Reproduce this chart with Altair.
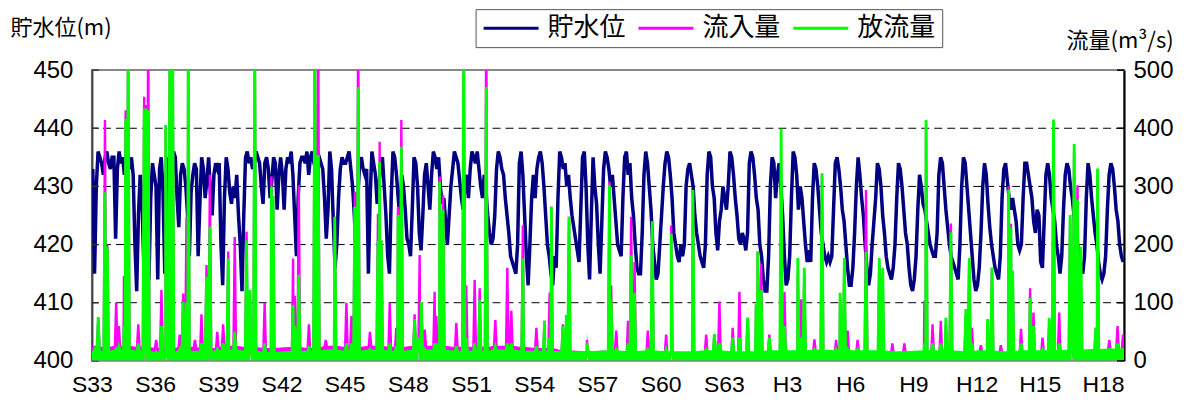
import json
import altair as alt
import pandas as pd

FONT_CJK = "Noto Sans CJK JP"
FONT_NUM = "Liberation Sans"

# ---- axis / category data -------------------------------------------------
x_tick_pos = [0, 3, 6, 9, 12, 15, 18, 21, 24, 27, 30, 33, 36, 39, 42, 45, 48]
x_tick_labels = ["S33", "S36", "S39", "S42", "S45", "S48", "S51", "S54", "S57",
                 "S60", "S63", "H3", "H6", "H9", "H12", "H15", "H18"]
level_ticks = [400, 410, 420, 430, 440, 450]
level_grid = [410, 420, 430, 440]
flow_ticks = [0, 100, 200, 300, 400, 500]
series_names = ["貯水位", "流入量", "放流量"]
series_colors = ["#000080", "#FF00FF", "#00FF00"]

# ---- reservoir level (m), monthly readings, one row per year from S33 ----
level = [
    [433, 415, 430, 436, 435, 434, 432, 435, 436, 434, 433, 435],
    [435, 421, 433, 436, 434, 435, 432, 436, 434, 433, 435, 432],
    [420, 412, 425, 432, 428, 417, 430, 434, 414, 428, 434, 432],
    [430, 414, 433, 435, 429, 415, 432, 435, 434, 433, 436, 435],
    [428, 423, 432, 434, 433, 430, 425, 418, 429, 432, 434, 433],
    [418, 427, 435, 433, 428, 431, 435, 429, 425, 432, 434, 433],
    [434, 420, 413, 428, 435, 433, 429, 427, 430, 428, 432, 425],
    [420, 412, 425, 435, 436, 434, 435, 433, 434, 436, 435, 434],
    [430, 427, 434, 435, 433, 428, 431, 435, 434, 426, 432, 435],
    [432, 426, 433, 435, 434, 436, 432, 425, 418, 428, 434, 435],
    [435, 434, 436, 432, 435, 436, 434, 433, 436, 435, 434, 433],
    [428, 421, 426, 436, 433, 424, 416, 420, 428, 433, 435, 434],
    [434, 435, 436, 433, 430, 425, 418, 428, 434, 435, 433, 432],
    [433, 415, 428, 436, 434, 432, 427, 430, 434, 435, 430, 425],
    [418, 415, 428, 436, 435, 432, 428, 424, 432, 430, 426, 421],
    [420, 418, 426, 435, 434, 430, 422, 419, 425, 432, 434, 430],
    [426, 432, 436, 435, 433, 435, 430, 427, 428, 424, 420, 425],
    [430, 433, 436, 435, 434, 431, 428, 426, 430, 432, 428, 433],
    [436, 435, 434, 436, 433, 430, 428, 432, 429, 425, 422, 420],
    [421, 425, 433, 436, 435, 433, 432, 428, 425, 422, 418, 417],
    [416, 415, 420, 434, 436, 432, 425, 418, 413, 420, 428, 432],
    [428, 433, 435, 436, 434, 430, 425, 420, 418, 415, 413, 418],
    [416, 428, 436, 435, 433, 434, 430, 432, 428, 425, 423, 421],
    [419, 417, 426, 435, 436, 430, 420, 414, 425, 435, 430, 427],
    [420, 415, 424, 433, 436, 435, 433, 430, 432, 428, 424, 420],
    [419, 418, 428, 435, 436, 432, 434, 428, 425, 420, 416, 415],
    [415, 422, 432, 436, 434, 430, 426, 420, 417, 414, 415, 420],
    [425, 430, 434, 436, 435, 432, 428, 422, 420, 418, 417, 420],
    [418, 420, 430, 433, 434, 432, 430, 425, 422, 420, 418, 417],
    [416, 420, 432, 436, 435, 430, 428, 422, 419, 424, 426, 430],
    [428, 426, 430, 436, 435, 432, 428, 425, 421, 420, 422, 421],
    [419, 422, 434, 436, 435, 432, 428, 426, 420, 418, 414, 412],
    [412, 418, 430, 435, 434, 428, 432, 434, 430, 425, 418, 413],
    [414, 418, 428, 436, 435, 432, 426, 430, 428, 424, 420, 417],
    [419, 417, 428, 434, 433, 430, 426, 422, 420, 418, 417, 418],
    [417, 418, 426, 434, 435, 433, 430, 426, 424, 420, 416, 413],
    [413, 416, 422, 430, 435, 432, 428, 425, 420, 416, 413, 415],
    [420, 424, 428, 434, 433, 430, 425, 422, 418, 416, 415, 414],
    [416, 420, 428, 434, 433, 430, 426, 422, 420, 416, 413, 412],
    [414, 418, 426, 432, 430, 427, 426, 424, 422, 420, 419, 418],
    [418, 422, 432, 435, 434, 430, 426, 423, 420, 418, 417, 416],
    [415, 414, 420, 430, 435, 434, 430, 426, 422, 418, 414, 412],
    [413, 416, 422, 430, 434, 432, 427, 423, 420, 418, 416, 415],
    [414, 418, 428, 433, 434, 431, 428, 426, 428, 426, 424, 420],
    [419, 420, 428, 434, 434, 432, 430, 428, 424, 422, 426, 425],
    [417, 416, 424, 432, 434, 432, 428, 426, 424, 420, 418, 415],
    [418, 426, 432, 434, 433, 430, 428, 425, 422, 420, 418, 416],
    [415, 418, 428, 434, 432, 428, 425, 422, 420, 417, 415, 414],
    [415, 418, 426, 432, 434, 433, 430, 426, 424, 420, 418, 417],
]

# ---- flows (m3/s): yearly low-flow levels and flood peaks ----------------
inflow_base = [22, 24, 22, 20, 22, 20, 24, 22, 20, 22, 20, 24, 22, 24, 22, 24,
               24, 22, 22, 24, 22, 20, 16, 14, 16, 13, 15, 13, 13, 15, 13, 13,
               15, 15, 16, 15, 15, 15, 13, 15, 15, 13, 15, 13, 15, 15, 16, 17, 18]
outflow_base = [15, 17, 15, 13, 15, 15, 17, 15, 13, 15, 15, 17, 15, 17, 15, 17,
                17, 15, 15, 17, 15, 15, 14, 14, 16, 14, 16, 14, 14, 16, 14, 14,
                16, 16, 17, 16, 16, 16, 14, 16, 16, 14, 16, 14, 16, 16, 17, 18, 19]

peak_t = [0.14, 0.30, 0.62, 0.73, 1.15, 1.28, 1.52, 1.60, 1.72, 2.20, 2.48, 2.56,
          2.67, 3.05, 3.30, 3.50, 3.70, 3.83, 4.17, 4.33, 4.49, 4.57, 4.89, 5.20,
          5.44, 5.60, 5.95, 6.23, 6.47, 6.78, 7.34, 7.50, 7.73, 8.20, 8.52, 8.60,
          9.55, 9.63, 9.82, 10.30, 10.58, 10.74, 11.10, 11.53, 12.08, 12.32, 12.48,
          12.64, 13.20, 13.58, 13.66, 13.74, 14.14, 14.45, 14.53, 14.69, 15.32,
          15.56, 15.64, 15.80, 16.27, 16.35, 16.51, 16.67, 17.30, 17.65, 17.77,
          18.17, 18.41, 18.72, 19.15, 19.72, 19.91, 20.46, 21.10, 21.49, 21.73,
          21.81, 22.36, 22.52, 22.65, 23.50, 24.57, 24.65, 24.89, 25.45, 25.60,
          25.76, 26.39, 26.60, 27.26, 27.50, 28.53, 29.16, 29.55, 29.79, 30.42,
          30.74, 31.13, 31.53, 31.61, 31.77, 32.16, 32.72, 32.88, 33.51, 33.67,
          33.82, 34.30, 34.66, 35.33, 35.52, 35.72, 35.88, 36.35, 36.75, 37.38,
          37.54, 38.00, 38.57, 39.52, 39.60, 39.91, 40.30, 40.54, 40.78, 41.49,
          41.65, 41.78, 42.20, 42.52, 42.73, 43.15, 43.52, 43.63, 43.71, 44.11,
          44.54, 44.70, 45.13, 45.45, 45.65, 45.92, 46.44, 46.63, 46.79, 46.95,
          47.66, 47.74, 48.30, 48.69, 48.95]
inflow_peak = [24, 75, 414, 200, 100, 60, 146, 431, 560, 63, 454, 440,
               600, 36, 122, 405, 560, 560, 45, 116, 247, 560, 36, 80,
               165, 320, 50, 63, 188, 213, 222, 122, 560, 100, 317, 283,
               176, 112, 302, 63, 560, 600, 36, 248, 100, 77, 291,
               600, 50, 253, 377, 207, 100, 57, 265, 414, 80,
               182, 101, 54, 119, 77, 317, 285, 65, 560, 130,
               139, 125, 600, 70, 160, 86, 233, 57, 69, 117,
               265, 63, 63, 248, 36, 308, 130, 52, 69, 248,
               170, 52, 240, 45, 233, 294, 45, 46, 102, 57,
               119, 74, 97, 188, 167, 45, 120, 119, 150, 106,
               150, 37, 322, 36, 110, 170, 52, 36, 294, 170,
               150, 30, 30, 103, 400, 63, 69, 60, 236, 80,
               170, 57, 27, 60, 160, 27, 300, 236, 150, 55,
               125, 83, 40, 60, 400, 83, 240, 360, 302, 89,
               57, 320, 36, 60, 45]
outflow_peak = [20, 74, 290, 196, 20, 25, 60, 416, 560, 30, 434, 434,
                431, 15, 60, 405, 560, 560, 20, 101, 100, 560, 15, 30,
                145, 231, 20, 30, 176, 50, 207, 122, 560, 30, 300, 283,
                96, 60, 148, 25, 560, 354, 15, 248, 30, 30, 265,
                471, 20, 207, 342, 207, 30, 25, 251, 368, 72,
                40, 101, 20, 30, 30, 308, 260, 25, 560, 40,
                30, 105, 471, 25, 30, 30, 176, 25, 69, 40,
                265, 60, 79, 248, 30, 303, 105, 20, 30, 181,
                117, 20, 240, 20, 218, 294, 20, 46, 30, 40,
                40, 74, 97, 188, 122, 40, 399, 60, 177, 40,
                160, 20, 322, 20, 117, 177, 20, 20, 187, 177,
                160, 15, 15, 30, 414, 30, 30, 74, 221, 89,
                177, 30, 15, 72, 160, 15, 294, 229, 155, 30,
                108, 60, 20, 74, 415, 30, 251, 373, 277, 196,
                57, 331, 20, 30, 20]

# ---- tables built from the arrays above ----------------------------------
level_vals = [v for row in level for v in row]
level_df = pd.DataFrame({"t": [(i + 0.5) / 12 for i in range(len(level_vals))],
                         "level": level_vals, "series": series_names[0]})


def flow_table(base, peaks, name, half_width=0.06):
    rows = [(y + 0.5, b) for y, b in enumerate(base)]
    rows += [(0.0, base[0]), (float(len(base)), base[-1])]
    for t, v in zip(peak_t, peaks):
        b = base[min(int(t), len(base) - 1)]
        rows += [(t - half_width, b), (t, v), (t + half_width, b)]
    rows.sort()
    df = pd.DataFrame(rows, columns=["t", "q"])
    df["series"] = name
    return df


in_df = flow_table(inflow_base, inflow_peak, series_names[1])
out_df = flow_table(outflow_base, outflow_peak, series_names[2])

# ---- chart ---------------------------------------------------------------
W, H = 1033, 291

x_scale = alt.Scale(domain=[0, 49], nice=False, zero=False)
label_expr = ("[" + ",".join(json.dumps(s) for s in x_tick_labels) + "]"
              "[indexof([" + ",".join(str(p) for p in x_tick_pos) + "], datum.value)]")
x_axis = alt.Axis(values=x_tick_pos, labelExpr=label_expr, domain=False, ticks=False,
                  tickSize=0, grid=False, labelFont=FONT_NUM, labelFontSize=23,
                  labelColor="black", labelPadding=13, title=None, labelFlush=False)
x_enc = alt.X("t:Q", scale=x_scale, axis=x_axis)

level_scale = alt.Scale(domain=[400, 450], nice=False, zero=False)
flow_scale = alt.Scale(domain=[0, 500], nice=False, zero=False)

left_axis = alt.Axis(values=level_ticks, orient="left", grid=False, ticks=False, tickSize=0,
                     domainColor="#444444", domainWidth=2, labelFont=FONT_NUM,
                     labelFontSize=24, labelColor="black", labelPadding=19,
                     title="貯水位(m)", titleAngle=0, titleX=-82, titleY=-43,
                     titleAlign="left", titleBaseline="middle", titleFont=FONT_CJK,
                     titleFontSize=22, titleFontWeight="normal", titleColor="black")
right_axis = alt.Axis(values=flow_ticks, orient="right", grid=False, ticks=False, tickSize=0,
                      domainColor="black", domainWidth=2, labelFont=FONT_NUM,
                      labelFontSize=24, labelColor="black", labelPadding=9,
                      title="流量(m³/s)", titleAngle=0, titleX=-58, titleY=-30,
                      titleAlign="left", titleBaseline="middle", titleFont=FONT_CJK,
                      titleFontSize=22, titleFontWeight="normal", titleColor="black")

color_scale = alt.Scale(domain=series_names, range=series_colors)
legend = alt.Legend(orient="none", legendX=384, legendY=-61, direction="horizontal",
                    columns=3, title=None, symbolType="M-1,0H4", symbolSize=484,
                    symbolStrokeWidth=3, labelFont=FONT_CJK, labelFontSize=26,
                    labelColor="black", labelOffset=40, labelLimit=200,
                    columnPadding=6, padding=6,
                    strokeColor="#555555", fillColor="white")
color_enc = alt.Color("series:N", scale=color_scale, legend=legend)

grid = alt.Chart(pd.DataFrame({"level": level_grid})).mark_rule(
    color="black", strokeWidth=1, strokeDash=[8, 5]
).encode(y=alt.Y("level:Q", scale=level_scale, axis=left_axis))

left_ticks = alt.Chart(pd.DataFrame({"level": level_ticks})).mark_rule(
    color="#333333", strokeWidth=1.5
).encode(y=alt.Y("level:Q", scale=level_scale, axis=left_axis),
         x=alt.value(0), x2=alt.value(7))

level_line = alt.Chart(level_df).mark_line(strokeWidth=3.5, clip=True).encode(
    x=x_enc, y=alt.Y("level:Q", scale=level_scale, axis=left_axis), color=color_enc)

flow_y = alt.Y("q:Q", scale=flow_scale, axis=right_axis)

in_area = alt.Chart(in_df).mark_area(color="#FF00FF", clip=True).encode(x=x_enc, y=flow_y)
in_line = alt.Chart(in_df).mark_line(strokeWidth=2.4, clip=True).encode(
    x=x_enc, y=flow_y, color=color_enc)
out_area = alt.Chart(out_df).mark_area(color="#00FF00", clip=True).encode(x=x_enc, y=flow_y)
out_line = alt.Chart(out_df).mark_line(strokeWidth=2.8, clip=True).encode(
    x=x_enc, y=flow_y, color=color_enc)

right_ticks = alt.Chart(pd.DataFrame({"q": flow_ticks})).mark_rule(
    color="black", strokeWidth=1.5
).encode(y=flow_y, x=alt.value(W - 7), x2=alt.value(W))

left = alt.layer(grid, level_line, left_ticks)
right = alt.layer(in_area, in_line, out_area, out_line, right_ticks)

chart = alt.layer(left, right).resolve_scale(y="independent").properties(
    width=W, height=H,
    autosize=alt.AutoSizeParams(type="none"),
    padding={"left": 84, "top": 62, "right": 60, "bottom": 40},
    background="white",
).configure_view(stroke="#888888", strokeWidth=2)

chart.save("out.html", embed_options={"renderer": "svg", "actions": False})
